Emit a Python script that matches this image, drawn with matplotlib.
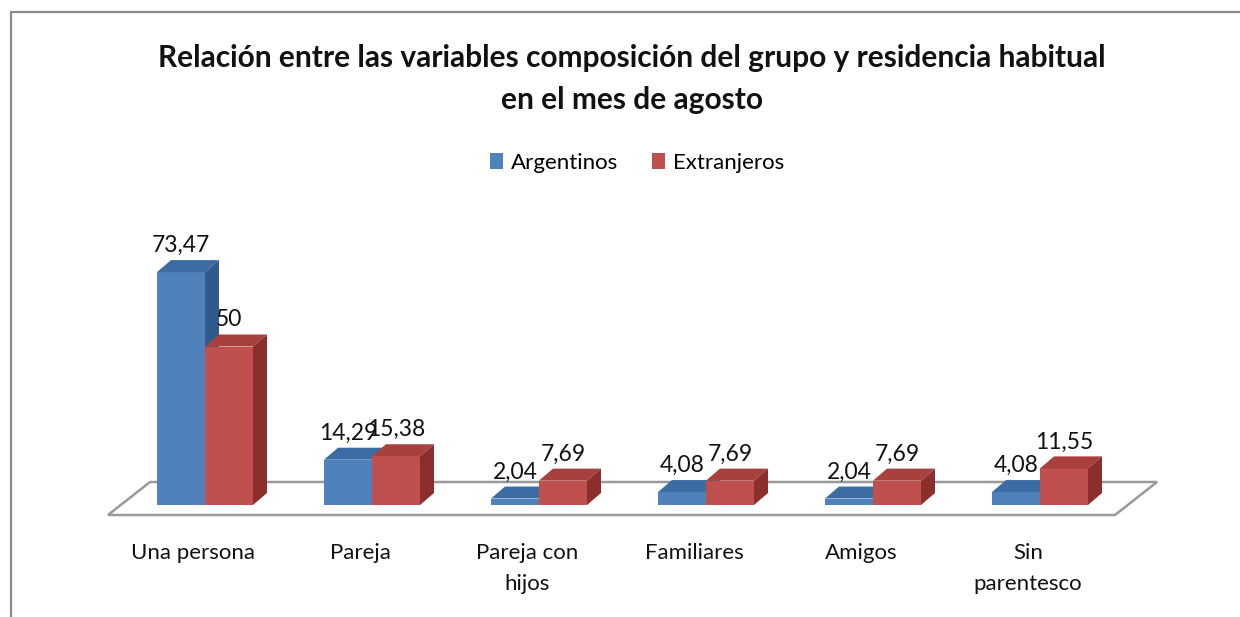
import matplotlib
matplotlib.use("Agg")
import matplotlib.pyplot as plt
from matplotlib.patches import Polygon, Patch
from matplotlib.lines import Line2D

# ---- data ----
categories = ["Una persona", "Pareja", "Pareja con\nhijos", "Familiares", "Amigos", "Sin\nparentesco"]
argentinos = [73.47, 14.29, 2.04, 4.08, 2.04, 4.08]
extranjeros = [50, 15.38, 7.69, 7.69, 7.69, 11.55]
value_labels_arg = ["73,47", "14,29", "2,04", "4,08", "2,04", "4,08"]
value_labels_ext = ["50", "15,38", "7,69", "7,69", "7,69", "11,55"]
series_names = ["Argentinos", "Extranjeros"]
title = "Relación entre las variables composición del grupo y residencia habitual\nen el mes de agosto"

# ---- style ----
FONT = ["Lato", "DejaVu Sans"]
plt.rcParams["font.family"] = FONT
front_cols = ["#4F81BD", "#C0504D"]
top_cols = ["#3D6BA3", "#A8403D"]
side_cols = ["#2F5A8C", "#8A2F2C"]

W, H = 1240, 617
fig = plt.figure(figsize=(W / 100, H / 100), dpi=100)
fig.patch.set_facecolor("white")

# axes in pixel-derived placement
px_left, px_right, px_top, px_bottom = 108, 1155, 240, 520
ax = fig.add_axes([px_left / W, 1 - px_bottom / H, (px_right - px_left) / W, (px_bottom - px_top) / H])
group_px = 167.0
unit_px = 3.17
x0_px = 205  # centre of first group
zero_px = 505
ax.set_xlim((px_left - x0_px) / group_px, (px_right - x0_px) / group_px)
ax.set_ylim((zero_px - px_bottom) / unit_px, (zero_px - px_top) / unit_px)
ax.axis("off")

bw = 48 / group_px
dx = 14 / group_px
dy = 12 / unit_px

# floor
n = len(categories)
f_front = -10 / unit_px
f_back = 23 / unit_px
fl = (px_left - x0_px) / group_px
floor_dx = 42 / group_px
fr = n - 1 + (1115 - x0_px - 5 * group_px) / group_px
floor = Polygon([(fl, f_front), (fr, f_front), (fr + floor_dx, f_back), (fl + floor_dx, f_back)],
                closed=True, facecolor="white", edgecolor="#9a9a9a", lw=1.8, zorder=1, clip_on=False)
ax.add_patch(floor)

series = [argentinos, extranjeros]
labels = [value_labels_arg, value_labels_ext]
z = 2
for i in range(n):
    for s in range(2):
        v = series[s][i]
        xl = i - bw + s * bw
        xr = xl + bw
        ax.bar(xl, v, width=bw, align="edge", color=front_cols[s], zorder=z, clip_on=False, linewidth=0)
        top = Polygon([(xl, v), (xr, v), (xr + dx, v + dy), (xl + dx, v + dy)], closed=True,
                      facecolor=top_cols[s], edgecolor="none", zorder=z, clip_on=False)
        side = Polygon([(xr, 0), (xr + dx, dy), (xr + dx, v + dy), (xr, v)], closed=True,
                       facecolor=side_cols[s], edgecolor="none", zorder=z, clip_on=False)
        ax.add_patch(top)
        ax.add_patch(side)
        ax.text(xl + bw / 2, v + dy + 8 / unit_px, labels[s][i], ha="center", va="baseline",
                fontsize=16.5, color="#111111", zorder=20, clip_on=False)
        z += 1

for i, c in enumerate(categories):
    ax.text(i - 12 / group_px, -38 / unit_px, c, ha="center", va="top", fontsize=16,
            color="#111111", linespacing=1.68, clip_on=False)

# title
fig.text(632 / W, 1 - 44 / H, title, ha="center", va="top", fontsize=21.5, fontweight="bold",
         color="#111111", linespacing=1.6)

# legend
handles = [Patch(facecolor=front_cols[k], edgecolor="none") for k in range(2)]
fig.legend(handles, series_names, loc="center", bbox_to_anchor=(637 / W, 1 - 163 / H), ncol=2,
           frameon=False, fontsize=16, handlelength=0.6, handleheight=0.75, handletextpad=0.35,
           columnspacing=1.5)

# chart frame (left and top border)
fig.add_artist(Line2D([11 / W, 11 / W, 1.0], [0.0, 1 - 12 / H, 1 - 12 / H], color="#8a8a8a", lw=1.6,
                      transform=fig.transFigure))

fig.savefig("out.png", dpi=100)
